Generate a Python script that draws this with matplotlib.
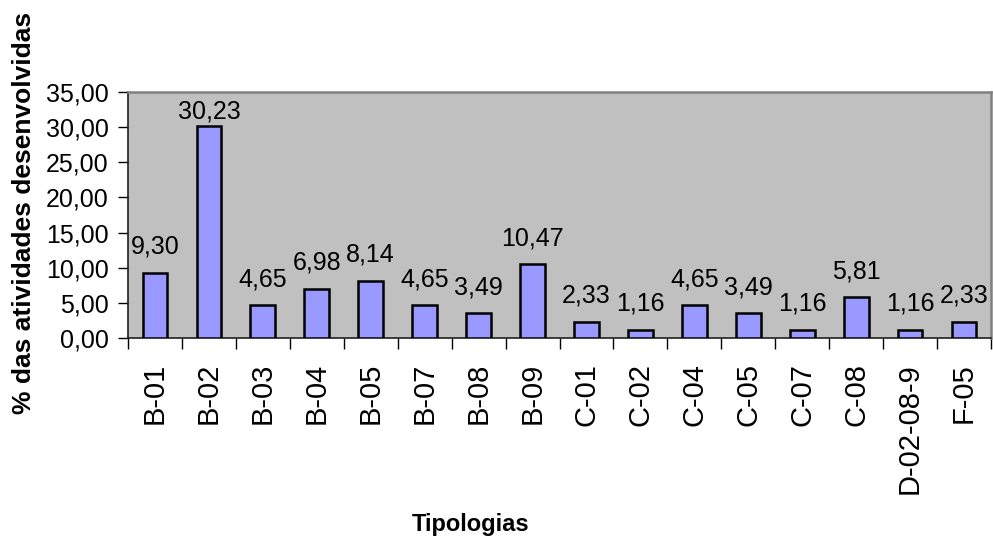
import matplotlib
matplotlib.use("Agg")
import matplotlib.pyplot as plt
import numpy as np
from matplotlib.ticker import FixedLocator, FuncFormatter

plt.rcParams['font.family'] = ['Liberation Sans', 'DejaVu Sans']

categorias = ["B-01", "B-02", "B-03", "B-04", "B-05", "B-07", "B-08", "B-09",
              "C-01", "C-02", "C-04", "C-05", "C-07", "C-08", "D-02-08-9", "F-05"]
percentuais = [9.30, 30.23, 4.65, 6.98, 8.14, 4.65, 3.49, 10.47,
               2.33, 1.16, 4.65, 3.49, 1.16, 5.81, 1.16, 2.33]
y_ticks = [0, 5, 10, 15, 20, 25, 30, 35]

W, H, DPI = 993, 538, 100
fig = plt.figure(figsize=(W / DPI, H / DPI), dpi=DPI)
fig.patch.set_facecolor("white")

left, right, top, bottom = 128, 991, 92, 338
ax = fig.add_axes([left / W, 1 - bottom / H, (right - left) / W, (bottom - top) / H])
ax.set_facecolor("#C0C0C0")

x = np.arange(len(categorias))
bars = ax.bar(x, percentuais, width=0.46, color="#9999FF", edgecolor="black",
              linewidth=1.8, zorder=3)

ax.set_xlim(-0.5, len(categorias) - 0.5)
ax.set_ylim(0, 35)

# y axis
ax.yaxis.set_major_locator(FixedLocator(y_ticks))
ax.yaxis.set_major_formatter(FuncFormatter(lambda v, p: f"{v:.2f}".replace(".", ",")))
ax.tick_params(axis="y", direction="out", length=7, width=1, pad=7,
               labelsize=18, colors="black")

# x axis: tick marks on category boundaries, labels at the centres
ax.set_xticks(np.arange(len(categorias) + 1) - 0.5)
ax.set_xticklabels([])
ax.tick_params(axis="x", which="major", direction="out", length=8, width=1)
ax.set_xticks(x, minor=True)
ax.set_xticklabels(categorias, minor=True, rotation=90, fontsize=21,
                   va="top", ha="center")
ax.tick_params(axis="x", which="minor", length=0, pad=25 * 72 / DPI)

for side in ("left", "bottom"):
    ax.spines[side].set_color("#202020")
    ax.spines[side].set_linewidth(1.2)
for side in ("top", "right"):
    ax.spines[side].set_color("#808080")
    ax.spines[side].set_linewidth(1.8)

# value labels above bars; a label that would leave the plot area is lowered
label_fs = 18
fs_px = label_fs * DPI / 72
offset_px = 19
top_margin_px = 8
texts = []
for xi, v in zip(x, percentuais):
    bar_top_px = ax.transData.transform((xi, v))[1]
    ax_top_px = ax.transAxes.transform((0, 1))[1]
    max_baseline = ax_top_px - top_margin_px - 0.72 * fs_px
    off = min(offset_px, max_baseline - bar_top_px)
    ax.annotate(f"{v:.2f}".replace(".", ","), xy=(xi, v),
                xytext=(0, off * 72 / DPI), textcoords="offset points",
                ha="center", va="baseline", fontsize=label_fs, zorder=4)

fig.text(471 / W, 1 - 525 / H, "Tipologias", ha="center", va="center",
         fontsize=17, fontweight="bold")
fig.text(24 / W, 1 - 213 / H, "% das atividades desenvolvidas", ha="center",
         va="center", rotation=90, fontsize=19, fontweight="bold")

fig.savefig("out.png", dpi=DPI)
